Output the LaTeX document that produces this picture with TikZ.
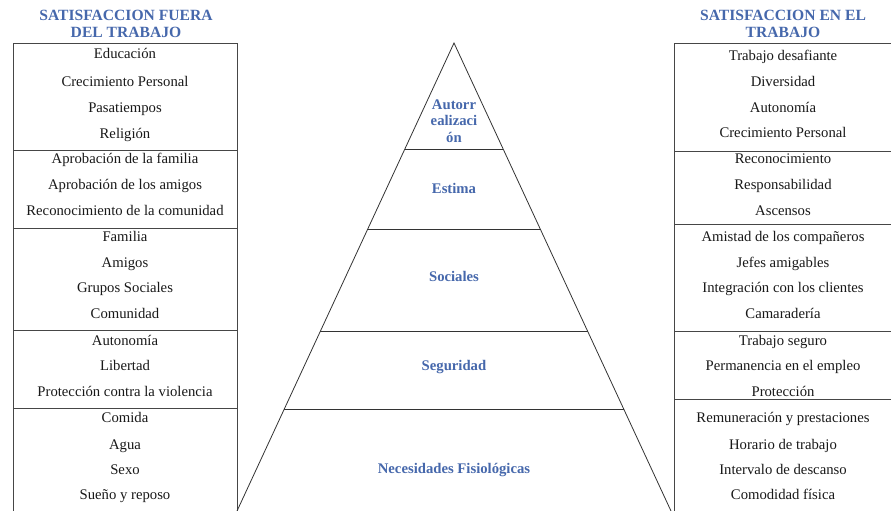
\documentclass[tikz,border=0pt]{standalone}
\usepackage{fontspec}
\setmainfont{Liberation Serif}
\definecolor{hblue}{RGB}{70,104,172}
\definecolor{lgray}{RGB}{70,70,70}
\begin{document}
\begin{tikzpicture}[x=1pt,y=-1pt,
  item/.style={inner sep=0pt,text height=8pt,text depth=0pt,font=\fontsize{14.7}{16}\selectfont,text=black!90},
  head/.style={inner sep=0pt,align=center,font=\fontsize{15.6}{16.5}\selectfont\bfseries,text=hblue},
  plabel/.style={inner sep=0pt,align=center,font=\fontsize{14.7}{16.5}\selectfont\bfseries,text=hblue},
  plabelone/.style={plabel,text height=8pt,text depth=0pt},
  boxline/.style={draw=lgray,line width=0.9pt},
  pyr/.style={draw=black!80,line width=0.8pt}]
\useasboundingbox (0,0) rectangle (891,511);
\fill[white] (0,0) rectangle (891,511);
% headers
\node[head] (hl) at (126,24) {SATISFACCION FUERA\\DEL TRABAJO};
\node[head] (hr) at (783,24) {SATISFACCION EN EL\\TRABAJO};
% left box
\coordinate (lt1) at (13,43); \coordinate (lt2) at (237,43);
\coordinate (lb1) at (13,511); \coordinate (lb2) at (237,511);
\draw[boxline] (lb1) -- (lt1) -- (lt2) -- (lb2);
\foreach \y in {150,228,330,408} \draw[boxline] (13,\y) -- (237,\y);
% right box
\coordinate (rt1) at (674,43); \coordinate (rt2) at (891,43);
\coordinate (rb1) at (674,511);
\draw[boxline] (rb1) -- (rt1) -- (rt2);
\foreach \y in {151,224,331,399} \draw[boxline] (674,\y) -- (891,\y);
% left items
\node[item] (l1) at (125,55) {Educación};
\node[item] (l2) at (125,82) {Crecimiento Personal};
\node[item] (l3) at (125,108) {Pasatiempos};
\node[item] (l4) at (125,134) {Religión};
\node[item] (l5) at (125,159) {Aprobación de la familia};
\node[item] (l6) at (125,185) {Aprobación de los amigos};
\node[item] (l7) at (125,211) {Reconocimiento de la comunidad};
\node[item] (l8) at (125,237) {Familia};
\node[item] (l9) at (125,263) {Amigos};
\node[item] (l10) at (125,288) {Grupos Sociales};
\node[item] (l11) at (125,314) {Comunidad};
\node[item] (l12) at (125,341) {Autonomía};
\node[item] (l13) at (125,366) {Libertad};
\node[item] (l14) at (125,392) {Protección contra la violencia};
\node[item] (l15) at (125,418) {Comida};
\node[item] (l16) at (125,445) {Agua};
\node[item] (l17) at (125,470) {Sexo};
\node[item] (l18) at (125,495) {Sueño y reposo};
% right items
\node[item] (r1) at (783,56) {Trabajo desafiante};
\node[item] (r2) at (783,82) {Diversidad};
\node[item] (r3) at (783,108) {Autonomía};
\node[item] (r4) at (783,133) {Crecimiento Personal};
\node[item] (r5) at (783,159) {Reconocimiento};
\node[item] (r6) at (783,185) {Responsabilidad};
\node[item] (r7) at (783,211) {Ascensos};
\node[item] (r8) at (783,237) {Amistad de los compañeros};
\node[item] (r9) at (783,263) {Jefes amigables};
\node[item] (r10) at (783,288) {Integración con los clientes};
\node[item] (r11) at (783,314) {Camaradería};
\node[item] (r12) at (783,341) {Trabajo seguro};
\node[item] (r13) at (783,366) {Permanencia en el empleo};
\node[item] (r14) at (783,392) {Protección};
\node[item] (r15) at (783,418) {Remuneración y prestaciones};
\node[item] (r16) at (783,445) {Horario de trabajo};
\node[item] (r17) at (783,470) {Intervalo de descanso};
\node[item] (r18) at (783,495) {Comodidad física};
% pyramid
\coordinate (apex) at (454,43);
\coordinate (bl) at (237,511);
\coordinate (br) at (671,511);
\draw[pyr] (bl) -- (apex) -- (br);
\foreach \y in {149,229,331,409}{
  \pgfmathsetmacro{\dx}{0.4637*(\y-43)}
  \draw[pyr] ({454-\dx},\y) -- ({454+\dx},\y);
}
\node[plabel] (p1) at (454,121) {Autorr\\ealizaci\\ón};
\node[plabelone] (p2) at (454,189) {Estima};
\node[plabelone] (p3) at (454,277) {Sociales};
\node[plabelone] (p4) at (454,366) {Seguridad};
\node[plabelone] (p5) at (454,469) {Necesidades Fisiológicas};
\end{tikzpicture}
\end{document}
